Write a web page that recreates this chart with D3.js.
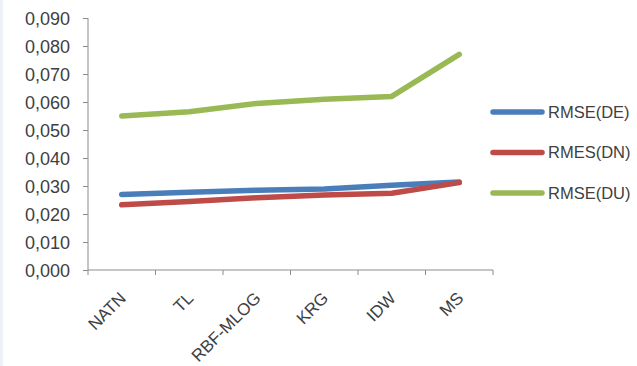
<!DOCTYPE html>
<html><head><meta charset="utf-8">
<script src="https://cdn.jsdelivr.net/npm/d3@7"></script>
<style>body{margin:0;background:#fff;}svg{display:block;}</style>
</head><body>
<script>
const categories = ["NATN","TL","RBF-MLOG","KRG","IDW","MS"];
const seriesNames = ["RMSE(DE)","RMES(DN)","RMSE(DU)"];
const rmseDE = [0.0270,0.0278,0.0285,0.0289,0.0303,0.0314];
const rmesDN = [0.0233,0.0245,0.0258,0.0268,0.0274,0.0312];
const rmseDU = [0.0550,0.0565,0.0595,0.0610,0.0620,0.0770];
const colors = ["#4A7EBB","#BE4B48","#98B954"];
const yTicks = [0,0.01,0.02,0.03,0.04,0.05,0.06,0.07,0.08,0.09];

const W=637,H=366;
const svg=d3.select("body").append("svg").attr("width",W).attr("height",H);
svg.append("rect").attr("x",0).attr("y",0).attr("width",3).attr("height",H).attr("fill","#eef2f7");

const x=d3.scaleBand().domain(categories).range([88,493]);
const y=d3.scaleLinear().domain([0,0.09]).range([270,18]);
const font="'Liberation Sans', Arial, sans-serif";
const axisColor="#8c8c8c";

// y axis
const ya=svg.append("g").attr("transform","translate(88,0)")
  .call(d3.axisLeft(y).tickValues(yTicks).tickSize(5).tickPadding(13)
    .tickFormat(d=>d3.format(".3f")(d).replace(".",",")));
ya.select(".domain").attr("stroke",axisColor).attr("d","M0,18V270");
ya.selectAll(".tick line").attr("stroke",axisColor);
ya.selectAll("text").attr("fill","#404040").style("font-family",font).style("font-size","18px").attr("dy","0.36em");

// x axis
const xa=svg.append("g").attr("transform","translate(0,270)")
  .call(d3.axisBottom(x).tickSize(0).tickFormat(""));
xa.select(".domain").attr("stroke",axisColor).attr("d","M88,0H493");
const bounds=categories.map(c=>x(c)).concat([x.range()[1]]);
xa.selectAll(".bt").data(bounds).enter().append("line").attr("class","bt")
  .attr("x1",d=>d).attr("x2",d=>d).attr("y1",0).attr("y2",5).attr("stroke",axisColor);
xa.selectAll(".tick").each(function(d){
  const g=d3.select(this);
  g.select("text").remove();
  g.append("text").text(d).attr("text-anchor","end")
    .attr("transform","translate(1,25) rotate(-45)")
    .attr("dy","0.35em")
    .attr("fill","#404040").style("font-family",font).style("font-size","17px");
});

// lines
const data=[rmseDE,rmesDN,rmseDU];
const line=d3.line().x((d,i)=>x(categories[i])+x.bandwidth()/2).y(d=>y(d));
data.forEach((s,k)=>{
  svg.append("path").datum(s).attr("d",line).attr("fill","none")
    .attr("stroke",colors[k]).attr("stroke-width",5.5).attr("stroke-linecap","round").attr("stroke-linejoin","round");
});

// legend
const leg=svg.append("g");
seriesNames.forEach((n,k)=>{
  const yy=112+k*40.5;
  leg.append("line").attr("x1",493).attr("x2",542).attr("y1",yy).attr("y2",yy)
    .attr("stroke",colors[k]).attr("stroke-width",5.5).attr("stroke-linecap","round");
  leg.append("text").attr("x",548).attr("y",yy).attr("dy","0.36em").text(n)
    .attr("fill","#404040").style("font-family",font).style("font-size","16.5px");
});
</script>
</body></html>
